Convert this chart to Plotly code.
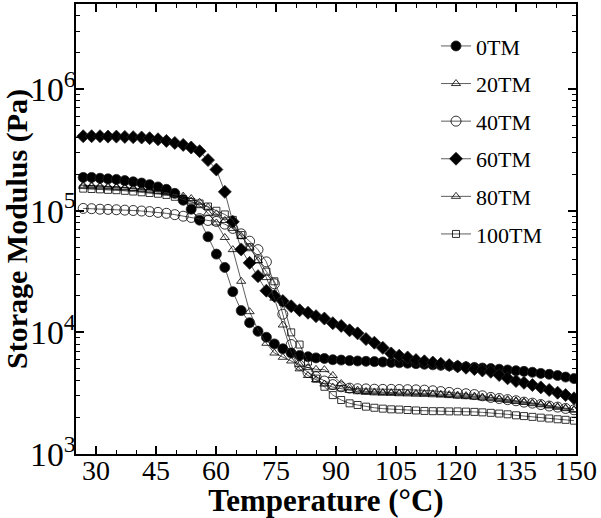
import plotly.graph_objects as go

temperature = [26.8, 28.9, 31.0, 33.0, 35.1, 37.2, 39.3, 41.4, 43.4, 45.5,
               47.6, 49.7, 51.8, 53.8, 55.9, 58.0, 60.1, 62.2, 64.2, 66.3,
               68.4, 70.5, 72.6, 74.6, 76.7, 78.8, 80.9, 83.0, 85.0, 87.1,
               89.2, 91.3, 93.4, 95.4, 97.5, 99.6, 101.7, 103.8, 105.8, 107.9,
               110.0, 112.1, 114.2, 116.2, 118.3, 120.4, 122.5, 124.6, 126.6, 128.7,
               130.8, 132.9, 135.0, 137.0, 139.1, 141.2, 143.3, 145.4, 147.4, 149.5]

g_0tm = [188000, 188000, 185000, 183000, 181000, 177000, 173000, 169000, 164000, 157000,
         150000, 139000, 122000, 103000, 83700, 61100, 44000, 34200, 21600, 15100,
         12000, 10200, 9120, 8040, 7330, 6760, 6460, 6310, 6170, 6100,
         5960, 5920, 5860, 5820, 5780, 5750, 5710, 5660, 5620, 5580,
         5530, 5470, 5410, 5360, 5310, 5260, 5210, 5150, 5090, 5040,
         4980, 4910, 4840, 4780, 4700, 4600, 4520, 4420, 4290, 4170]

g_20tm = [162000, 161000, 160000, 158500, 157000, 155000, 153000, 151000, 148000, 144500,
          140000, 135000, 128000, 120000, 110000, 95500, 79400, 60300, 47900, 26300,
          14800, 10500, 8130, 6760, 6240, 5820, 5430, 5130, 4970, 4940,
          4420, 3800, 3510, 3350, 3270, 3240, 3210, 3200, 3180, 3170,
          3160, 3150, 3130, 3100, 3080, 3050, 3020, 2990, 2940, 2900,
          2850, 2800, 2740, 2690, 2630, 2570, 2510, 2450, 2390, 2320]

g_40tm = [104500, 104000, 103000, 102600, 101900, 101200, 100500, 99500, 98400, 97000,
          95300, 92900, 90200, 88100, 86100, 83200, 81700, 77600, 71600, 64600,
          56200, 47900, 38000, 25100, 14100, 7940, 5370, 4680, 4320, 3980,
          3720, 3570, 3480, 3440, 3430, 3410, 3400, 3400, 3390, 3380,
          3370, 3350, 3310, 3260, 3210, 3160, 3130, 3080, 3010, 2920,
          2860, 2800, 2740, 2670, 2620, 2550, 2480, 2430, 2370, 2310]

g_60tm = [410000, 410000, 410000, 407000, 407000, 405000, 403000, 400000, 395000, 387000,
          375000, 361000, 348000, 331000, 309000, 261000, 218000, 143000, 81100, 48100,
          37300, 29000, 22000, 19900, 18100, 16400, 15200, 14500, 13600, 13000,
          11900, 11300, 10400, 9820, 8810, 8220, 7460, 6710, 6430, 6220,
          5920, 5780, 5650, 5520, 5380, 5250, 5120, 4990, 4860, 4740,
          4460, 4190, 3980, 3850, 3690, 3530, 3360, 3190, 3050, 2870]

g_80tm = [158500, 158000, 157000, 156000, 155000, 153500, 152000, 150000, 147600, 144500,
          141000, 137000, 132000, 126000, 117500, 107000, 94400, 83200, 71600, 61700,
          50100, 38900, 28200, 19100, 11500, 6920, 5010, 4420, 4070, 3760,
          3550, 3430, 3330, 3250, 3210, 3180, 3160, 3150, 3130, 3120,
          3100, 3090, 3070, 3050, 3020, 2990, 2960, 2930, 2890, 2850,
          2810, 2750, 2700, 2650, 2590, 2540, 2480, 2420, 2360, 2290]

g_100tm = [152000, 151000, 150000, 148600, 147600, 145900, 143900, 141900, 140000, 138000,
           135000, 130300, 124500, 118300, 114800, 108400, 100000, 93300, 84100, 63100,
           50100, 39800, 31600, 26300, 17800, 10000, 7940, 5750, 4170, 3570,
           3050, 2780, 2610, 2530, 2450, 2400, 2360, 2330, 2320, 2300,
           2280, 2260, 2250, 2250, 2240, 2240, 2230, 2220, 2200, 2180,
           2150, 2120, 2080, 2050, 2020, 1990, 1960, 1930, 1910, 1880]

series_names = ["0TM", "20TM", "40TM", "60TM", "80TM", "100TM"]
series_values = [g_0tm, g_20tm, g_40tm, g_60tm, g_80tm, g_100tm]
symbols = ["circle", "triangle-up-open", "circle-open", "diamond", "triangle-up-open", "square-open"]
sizes = [10, 8, 10, 10, 8, 7]

x_ticks = [30, 45, 60, 75, 90, 105, 120, 135, 150]

FONT = "Liberation Serif, Times New Roman, serif"

fig = go.Figure()
for i, (name, vals) in enumerate(zip(series_names, series_values)):
    fig.add_trace(go.Scatter(
        x=temperature, y=vals, name=name, mode="lines+markers",
        legendgroup=name,
        line=dict(color="#333333", width=0.8),
        marker=dict(symbol=symbols[i], size=sizes[i], color="black",
                    line=dict(color="#222222", width=0.8)),
    ))

axis_common = dict(
    showline=True, linecolor="black", linewidth=2, mirror="allticks",
    ticks="inside", ticklen=8, tickwidth=2, tickcolor="black",
    showgrid=False, zeroline=False, automargin=False,
)

fig.update_xaxes(
    range=[25, 150], tickvals=x_ticks, ticklabelstandoff=-10,
    tickfont=dict(family=FONT, size=28, color="black"),
    minor=dict(dtick=5, tick0=0, ticks="inside", ticklen=4, tickwidth=1, tickcolor="black"),
    title=dict(text="<b>Temperature (°C)</b>", font=dict(family=FONT, size=31, color="black"), standoff=4),
    **axis_common,
)
fig.update_yaxes(
    type="log", range=[3, 6.7], dtick=1, exponentformat="power",
    ticklabelstandoff=-7,
    tickfont=dict(family=FONT, size=27, color="black"),
    minor=dict(dtick="D1", ticks="inside", ticklen=4, tickwidth=1, tickcolor="black"),
    title=dict(text="<b>Storage Modulus (Pa)</b>", font=dict(family=FONT, size=30, color="black"), standoff=0),
    **axis_common,
)

fig.update_layout(
    width=601, height=518,
    margin=dict(l=76, r=25, t=4, b=64, autoexpand=False),
    paper_bgcolor="white", plot_bgcolor="white",
    showlegend=True,
    legend=dict(x=0.72, y=0.953, xanchor="left", yanchor="top",
                traceorder="grouped", tracegroupgap=6,
                font=dict(family=FONT, size=22, color="black"),
                bgcolor="rgba(0,0,0,0)", itemsizing="trace"),
)

fig.write_html("out.html", config={"displayModeBar": False},
               post_script="document.body.style.margin='0';document.body.style.padding='0';")
